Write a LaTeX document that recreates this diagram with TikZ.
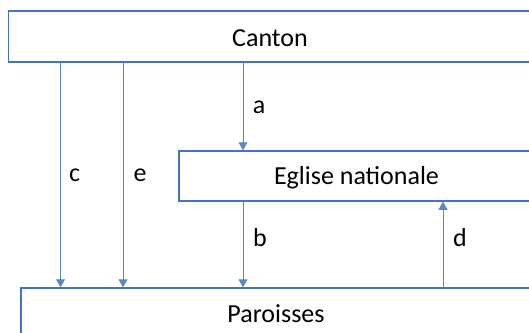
\documentclass[tikz,border=0pt]{standalone}
\usepackage{fontspec}
\setmainfont{Carlito}
\usetikzlibrary{arrows.meta}
\definecolor{boxblue}{HTML}{4472C4}
\definecolor{arrblue}{HTML}{5B84CC}
\tikzset{
  box/.style={draw=boxblue, line width=1.5pt, rectangle, inner sep=0pt},
  txt/.style={font=\fontsize{26}{30}\selectfont, inner sep=0pt, anchor=center},
  arr/.style={draw=arrblue, line width=1pt, -{Triangle[width=9pt,length=8pt]}, color=arrblue},
}
\begin{document}
\begin{tikzpicture}[x=1pt,y=-1pt]
\useasboundingbox (0,0) rectangle (529,332);
\clip (0,0) rectangle (529,332);
% boxes
\node[box, minimum width=551.5pt, minimum height=51pt] (canton) at (284.25,36.5) {};
\node[box, minimum width=381pt, minimum height=50pt] (eglise) at (369.5,176) {};
\node[box, minimum width=539pt, minimum height=57pt] (par) at (290.5,316.5) {};
% texts
\node[txt] (tcanton) at (270,38) {Canton};
\node[txt] (teglise) at (356.5,178) {Eglise nationale};
\node[txt] (tpar) at (276,314) {Paroisses};
% arrow columns
\coordinate (xc) at (60.5,0);
\coordinate (xe) at (123,0);
\coordinate (xa) at (243,0);
\coordinate (xd) at (443,0);
\draw[arr] (xc |- canton.south) -- (xc |- par.north);
\draw[arr] (xe |- canton.south) -- (xe |- par.north);
\draw[arr] (xa |- canton.south) -- (xa |- eglise.north);
\draw[arr] (xa |- eglise.south) -- (xa |- par.north);
\draw[arr] (xd |- par.north) -- (xd |- eglise.south);
% labels
\node[txt] (la) at (259,107) {a};
\node[txt] (lc) at (74.5,175) {c};
\node[txt] (le) at (140,175) {e};
\node[txt] (lb) at (260,238) {b};
\node[txt] (ld) at (460,238) {d};
\end{tikzpicture}
\end{document}
